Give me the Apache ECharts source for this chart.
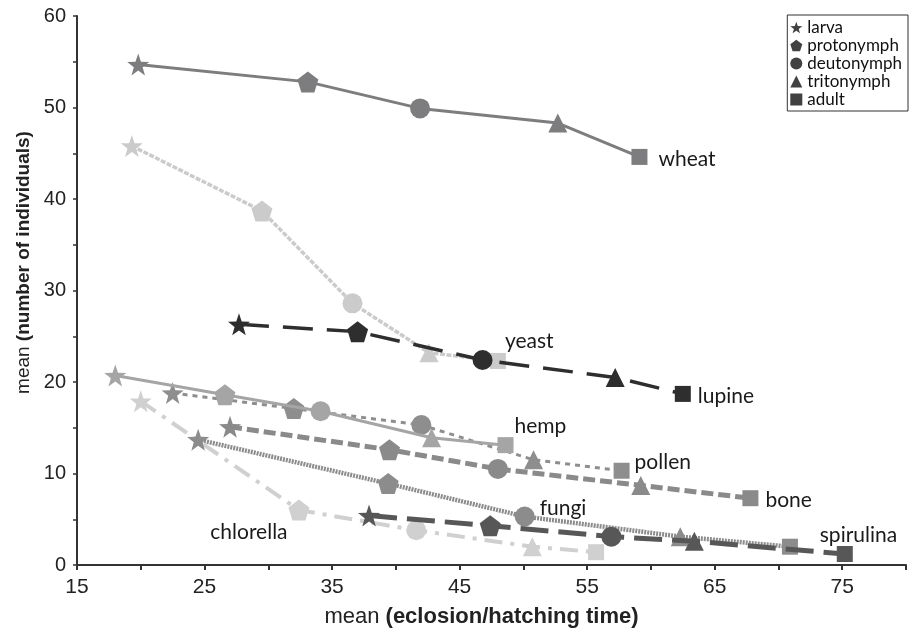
<!DOCTYPE html>
<html>
<head>
<meta charset="utf-8">
<script src="https://cdn.jsdelivr.net/npm/echarts@6/dist/echarts.min.js"></script>
<style>
html,body{margin:0;padding:0;background:#fff;}
#c{width:909px;height:633px;}
</style>
</head>
<body>
<div id="c"></div>
<script>
// ---- data ----
const stages = ['larva', 'protonymph', 'deutonymph', 'tritonymph', 'adult'];
const foods = ['wheat', 'yeast', 'lupine', 'hemp', 'pollen', 'bone', 'fungi', 'spirulina', 'chlorella'];

const wheatX = [19.8, 33.1, 41.9, 52.7, 59.1];
const wheatY = [54.7, 52.8, 49.9, 48.3, 44.6];
const yeastX = [19.3, 29.5, 36.6, 42.6, 48.0];
const yeastY = [45.8, 38.7, 28.6, 23.2, 22.3];
const lupineX = [27.7, 37.0, 46.8, 57.2, 62.5];
const lupineY = [26.3, 25.5, 22.4, 20.5, 18.7];
const hempX = [18.0, 26.6, 34.1, 42.8, 48.6];
const hempY = [20.7, 18.6, 16.8, 13.9, 13.1];
const pollenX = [22.5, 32.0, 42.0, 50.8, 57.7];
const pollenY = [18.8, 17.1, 15.3, 11.5, 10.3];
const boneX = [27.0, 39.5, 48.0, 59.2, 67.8];
const boneY = [15.1, 12.6, 10.5, 8.7, 7.3];
const fungiX = [24.5, 39.4, 50.1, 62.3, 70.9];
const fungiY = [13.7, 8.9, 5.3, 3.1, 2.0];
const spirulinaX = [37.9, 47.4, 56.9, 63.4, 75.2];
const spirulinaY = [5.4, 4.3, 3.1, 2.6, 1.2];
const chlorellaX = [20.0, 32.4, 41.6, 50.7, 55.7];
const chlorellaY = [17.9, 6.0, 3.8, 2.0, 1.4];

const xTicks = [15, 25, 35, 45, 55, 65, 75];
const yTicks = [0, 10, 20, 30, 40, 50, 60];

const seriesData = {
  wheat: [wheatX, wheatY], yeast: [yeastX, yeastY], lupine: [lupineX, lupineY],
  hemp: [hempX, hempY], pollen: [pollenX, pollenY], bone: [boneX, boneY],
  fungi: [fungiX, fungiY], spirulina: [spirulinaX, spirulinaY], chlorella: [chlorellaX, chlorellaY]
};

// ---- styles ----
const STAR = 'path://M0,-10 L2.35,-3.24 L9.51,-3.09 L3.80,1.24 L5.88,8.09 L0,4 L-5.88,8.09 L-3.80,1.24 L-9.51,-3.09 L-2.35,-3.24 Z';
const PENT = 'path://M0,-10 L9.51,-3.09 L5.88,8.09 L-5.88,8.09 L-9.51,-3.09 Z';
const symbols = [STAR, PENT, 'circle', 'triangle', 'rect'];
const symbolSizes = [22, 21, 20, 19, 16];
const LABEL_FONT = 'Lato, "Open Sans", sans-serif';
const AXIS_FONT = 'Liberation Sans, Arial, sans-serif';

const styles = {
  wheat:     {color: '#7d7d7f', width: 3, type: 'solid', z: 3, lab: {idx: 4, pos: 'right', off: [6, 2]}},
  yeast:     {color: '#cbcbcb', width: 3.5, type: [5, 1.5], z: 2, lab: {idx: 4, pos: 'right', off: [-6, -20]}},
  lupine:    {color: '#2e2e2e', width: 3.5, type: [30, 14], z: 4, lab: {idx: 4, pos: 'right', off: [2, 2]}},
  hemp:      {color: '#a5a5a5', width: 3, type: 'solid', z: 3, lab: {idx: 4, pos: 'right', off: [-4, -19]}},
  pollen:    {color: '#8e8e8e', width: 3, type: [5, 5], z: 2, lab: {idx: 4, pos: 'right', off: [0, -9]}},
  bone:      {color: '#8a8a8a', width: 5, type: [12, 5], z: 2, lab: {idx: 4, pos: 'right', off: [2, 2]}},
  fungi:     {color: '#8c8c8c', width: 4.5, type: [2, 1], z: 2, lab: {idx: 2, pos: 'right', off: [0, -8]}},
  spirulina: {color: '#575757', width: 5, type: [28, 10], z: 3, lab: {idx: 4, pos: 'right', off: [-38, -19]}},
  chlorella: {color: '#d0d0d0', width: 4, type: [18, 8, 4, 8], z: 2, lab: {idx: 1, pos: 'bottom', off: [-50, -4]}}
};

const series = [];
foods.forEach(function (f) {
  const st = styles[f];
  const xs = seriesData[f][0], ys = seriesData[f][1];
  const data = xs.map(function (x, i) {
    const item = {value: [x, ys[i]], symbol: symbols[i], symbolSize: symbolSizes[i]};
    if (i === st.lab.idx) {
      item.label = {show: true, position: st.lab.pos, offset: st.lab.off, formatter: f,
        color: '#1a1a1a', fontSize: 21, fontFamily: LABEL_FONT};
    }
    return item;
  });
  series.push({
    name: f, type: 'line', data: data, z: st.z,
    lineStyle: {color: st.color, width: st.width, type: st.type},
    itemStyle: {color: st.color, opacity: 1},
    label: {show: false},
    emphasis: {disabled: true},
    animation: false
  });
});
// legend-only series
stages.forEach(function (s, i) {
  series.push({name: s, type: 'scatter', data: [], symbol: symbols[i], itemStyle: {color: '#111'}});
});

const chart = echarts.init(document.getElementById('c'), null, {renderer: 'canvas'});
chart.setOption({
  animation: false,
  backgroundColor: '#ffffff',
  grid: {left: 77, right: 1, top: 16, bottom: 64},
  legend: {
    orient: 'vertical', right: 1, top: 15,
    data: stages.map(function (s, i) { return {name: s, icon: symbols[i]}; }),
    itemWidth: 12, itemHeight: 12, itemGap: 1,
    borderColor: '#333', borderWidth: 1, padding: [4, 6, 3, 3],
    textStyle: {fontSize: 17, lineHeight: 17, color: '#111', fontFamily: LABEL_FONT, padding: [0, 0, 0, 0]},
    selectedMode: false
  },
  xAxis: {
    type: 'value', min: 15, max: 80, interval: 5,
    name: '{n|mean }{b|(eclosion/hatching time)}', nameLocation: 'middle', nameGap: 41,
    nameTextStyle: {padding: [0, 20, 0, 0], rich: {
      n: {fontSize: 22, color: '#222', fontFamily: AXIS_FONT},
      b: {fontSize: 22, color: '#222', fontWeight: 'bold', fontFamily: AXIS_FONT}}},
    axisLine: {lineStyle: {color: '#333', width: 2}},
    axisTick: {show: true, length: 5, lineStyle: {color: '#333', width: 2}},
    axisLabel: {fontSize: 21, color: '#222', margin: 12, fontFamily: AXIS_FONT,
      formatter: function (v) { return xTicks.indexOf(v) >= 0 ? String(v) : ''; }},
    splitLine: {show: false}
  },
  yAxis: {
    type: 'value', min: 0, max: 60, interval: 5,
    name: '{n|mean }{b|(number of individuals)}', nameLocation: 'middle', nameGap: 43,
    nameTextStyle: {padding: [0, 0, 0, 56], rich: {
      n: {fontSize: 19, color: '#222', fontFamily: AXIS_FONT},
      b: {fontSize: 19, color: '#222', fontWeight: 'bold', fontFamily: AXIS_FONT}}},
    axisLine: {show: true, lineStyle: {color: '#333', width: 2}},
    axisTick: {show: true, length: 4, lineStyle: {color: '#333', width: 1.5}},
    axisLabel: {fontSize: 20, color: '#222', margin: 11, fontFamily: AXIS_FONT,
      formatter: function (v) { return yTicks.indexOf(v) >= 0 ? String(v) : ''; }},
    splitLine: {show: false}
  },
  series: series
});
</script>
</body>
</html>
